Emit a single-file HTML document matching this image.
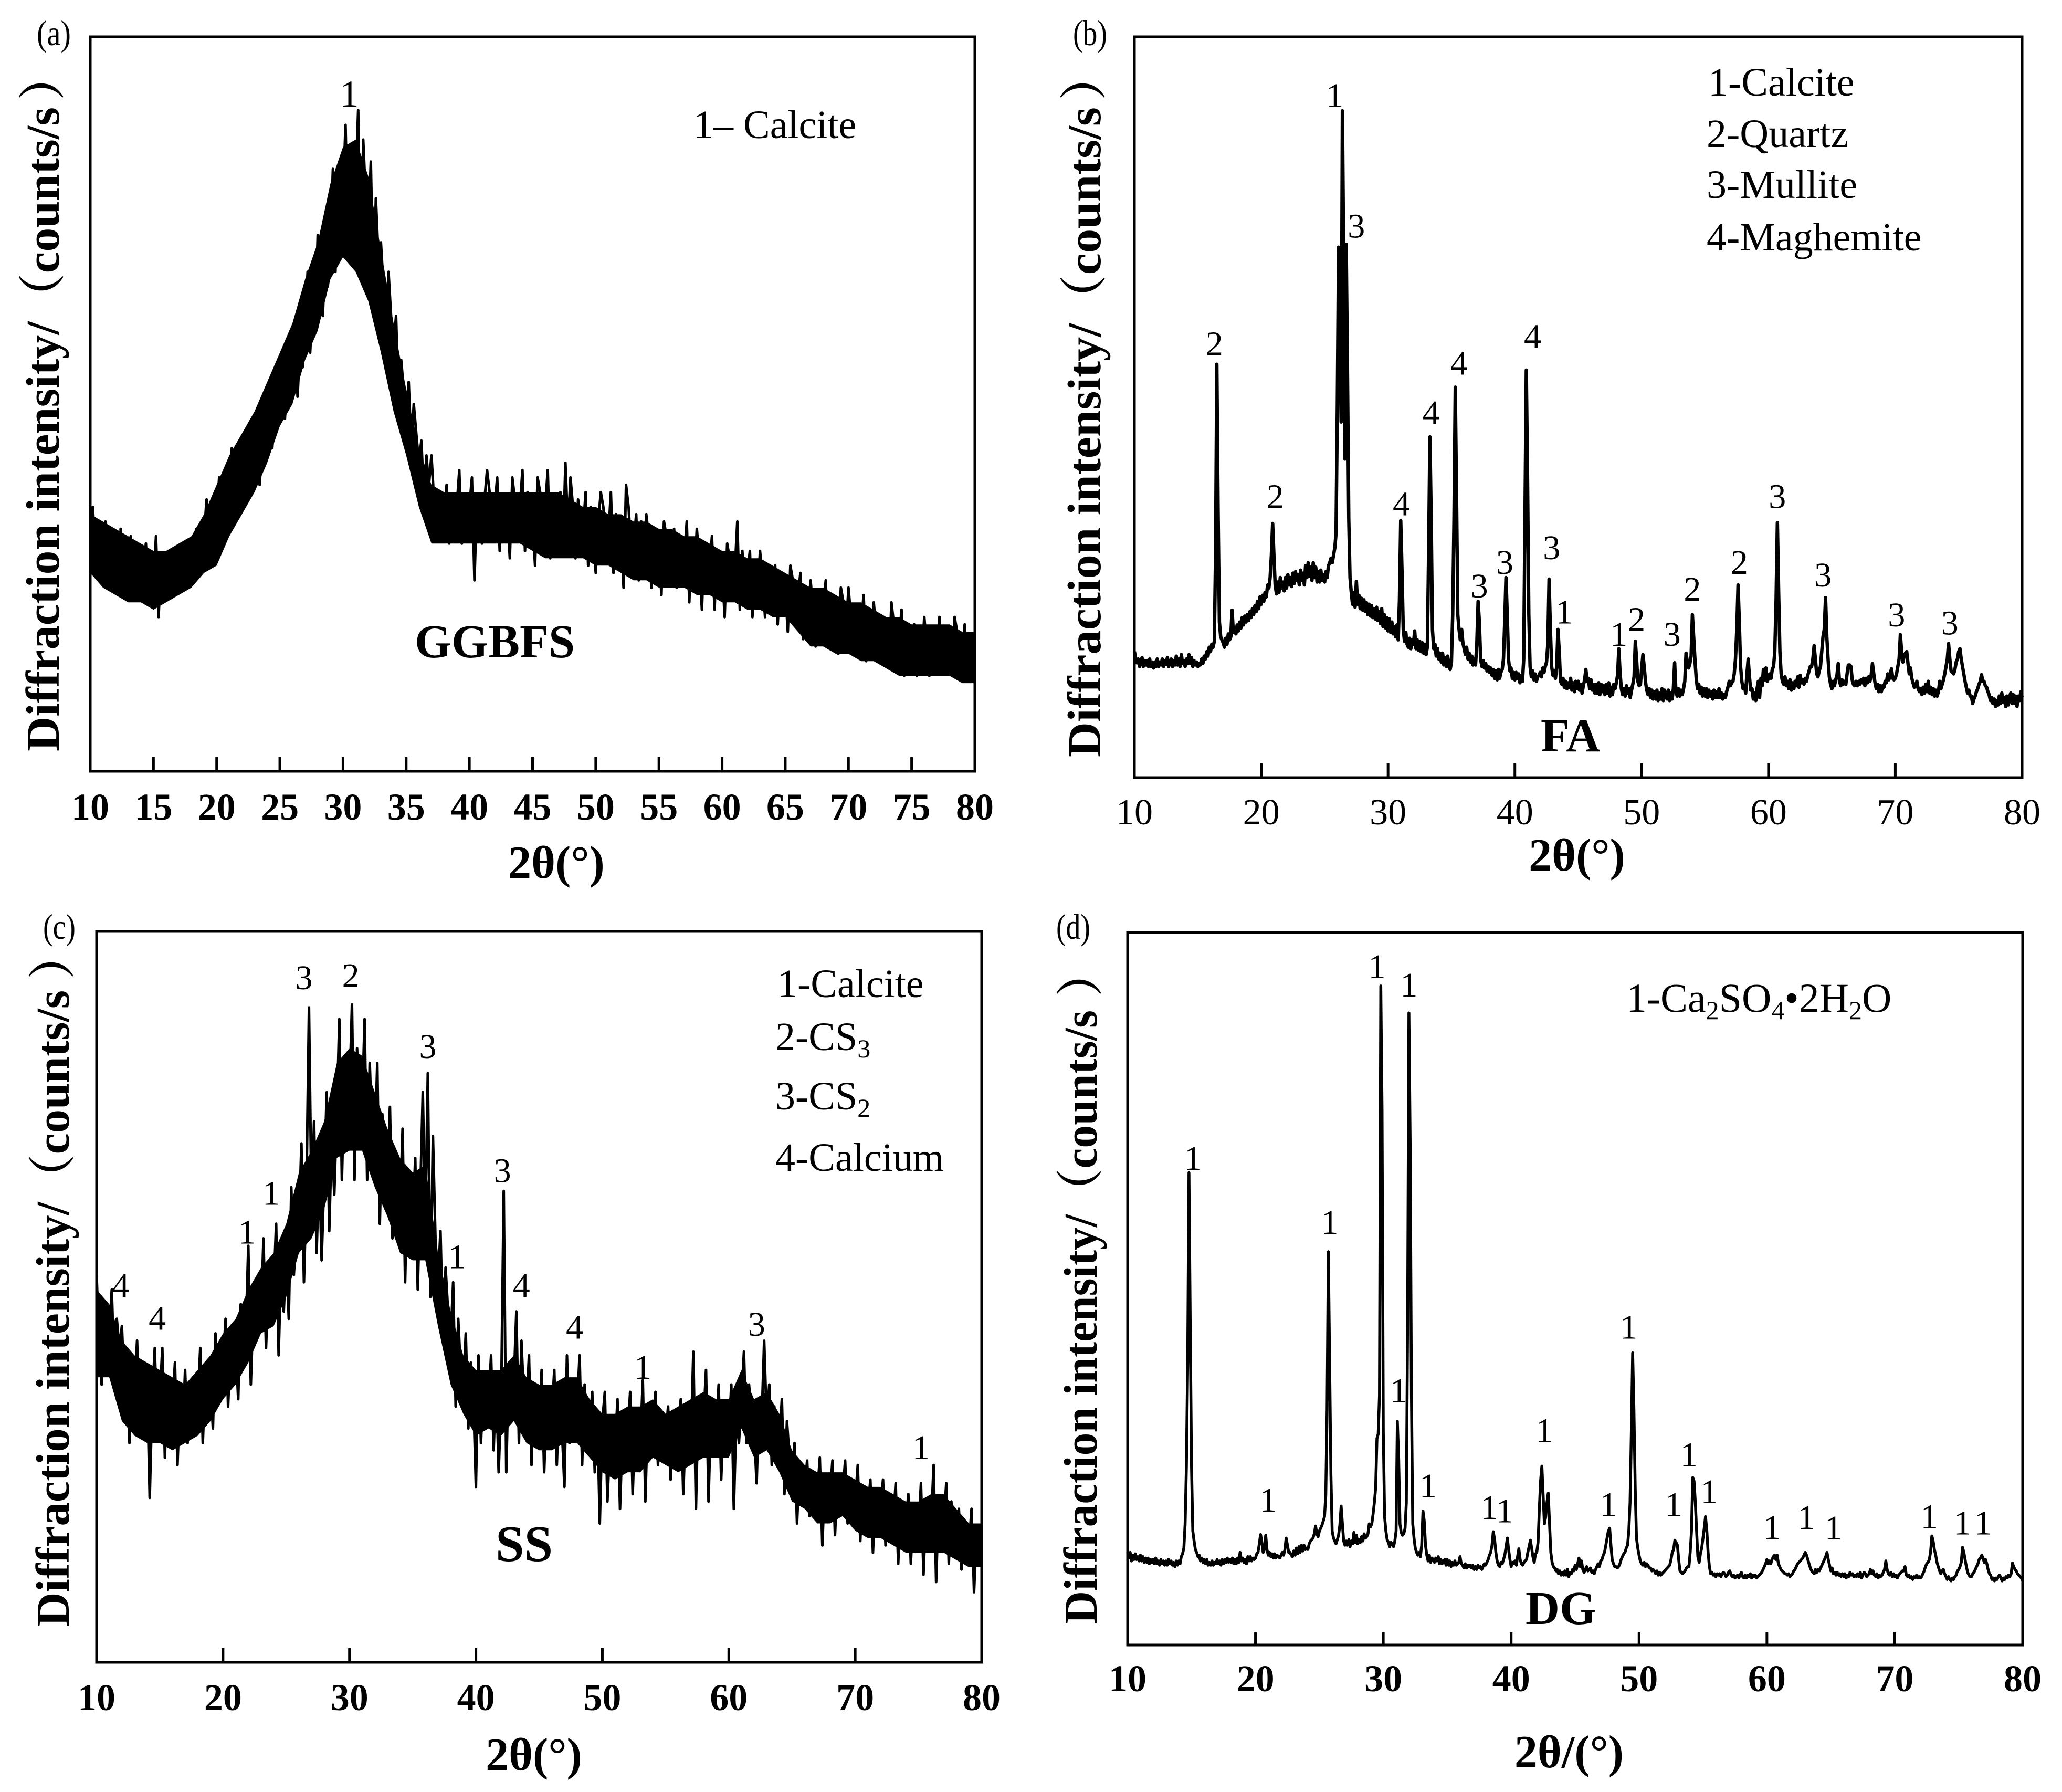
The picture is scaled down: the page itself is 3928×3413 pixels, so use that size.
<!DOCTYPE html>
<html lang="en">
<head>
<meta charset="utf-8">
<title>XRD patterns of GGBFS, FA, SS and DG</title>
<style>
html,body{margin:0;padding:0;background:#fff;}
svg{display:block;}
text{font-family:"Liberation Serif","Noto Serif CJK SC",serif;fill:#000;}
.ytitle{font-size:90px;font-weight:700;}
.xtitle{font-size:88px;font-weight:700;text-anchor:middle;}
.panel-tag{font-size:68px;}
.legend{font-size:76px;}
.big{font-size:90px;font-weight:700;}
</style>
</head>
<body>
<svg id="figure" xmlns="http://www.w3.org/2000/svg" width="3928" height="3413" viewBox="0 0 3928 3413">
<rect x="0" y="0" width="3928" height="3413" fill="#fff"/>

<g id="panel-a">
<text class="panel-tag" x="70" y="86" textLength="65" lengthAdjust="spacingAndGlyphs">(a)</text>
<text class="ytitle" transform="translate(112,1431) rotate(-90)" textLength="1227" lengthAdjust="spacingAndGlyphs">Diffraction intensity/（counts/s</text>
<text class="ytitle" transform="translate(112,191) rotate(-90)">）</text>
<text class="xtitle" x="1060" y="1672">2θ(°)</text>
<text class="legend" x="1321" y="263">1– Calcite</text>
<text class="big" x="790" y="1252">GGBFS</text>
</g>

<g id="panel-b">
<text class="panel-tag" x="2044" y="86" textLength="65" lengthAdjust="spacingAndGlyphs">(b)</text>
<text class="ytitle" transform="translate(2096,1442) rotate(-90)" textLength="1238" lengthAdjust="spacingAndGlyphs">Diffraction intensity/（counts/s</text>
<text class="ytitle" transform="translate(2096,191) rotate(-90)">）</text>
<text class="xtitle" x="3004" y="1658">2θ(°)</text>
<text class="legend" x="3254" y="182">1-Calcite</text>
<text class="legend" x="3251" y="280">2-Quartz</text>
<text class="legend" x="3251" y="377">3-Mullite</text>
<text class="legend" x="3251" y="477">4-Maghemite</text>
<text class="big" x="2935" y="1431">FA</text>
</g>

<g id="panel-c">
<text class="panel-tag" x="82" y="1788" textLength="62" lengthAdjust="spacingAndGlyphs">(c)</text>
<text class="ytitle" transform="translate(131,3098) rotate(-90)" textLength="1212" lengthAdjust="spacingAndGlyphs">Diffraction intensity/（counts/s</text>
<text class="ytitle" transform="translate(131,1865) rotate(-90)">）</text>
<text class="xtitle" x="1017" y="3371">2θ(°)</text>
<text class="legend" x="1481" y="1899">1-Calcite</text>
<text class="legend" x="1477" y="2000">2-CS<tspan dy="14" font-size="50">3</tspan></text>
<text class="legend" x="1477" y="2113">3-CS<tspan dy="14" font-size="50">2</tspan></text>
<text class="legend" x="1477" y="2230">4-Calcium</text>
<text class="big" x="944" y="2973" style="font-size:98px">SS</text>
</g>

<g id="panel-d">
<text class="panel-tag" x="2012" y="1788" textLength="65" lengthAdjust="spacingAndGlyphs">(d)</text>
<text class="ytitle" transform="translate(2089,3093) rotate(-90)" textLength="1169" lengthAdjust="spacingAndGlyphs">Diffraction intensity/（counts/s</text>
<text class="ytitle" transform="translate(2089,1898) rotate(-90)">）</text>
<text class="xtitle" x="2989" y="3366">2θ/(°)</text>
<text class="legend" style="font-size:78px" x="3098" y="1927">1-Ca<tspan dy="14" font-size="50">2</tspan><tspan dy="-14">SO</tspan><tspan dy="14" font-size="50">4</tspan><tspan dy="-14">•2H</tspan><tspan dy="14" font-size="50">2</tspan><tspan dy="-14">O</tspan></text>
<text class="big" x="2906" y="3093">DG</text>
</g>
</svg>

<script>
// Shared axis categories
const thetaMin = 10;
const thetaMax = 80;
const intensityMin = 0;
const intensityMax = 100;
const ticksFive = [10,15,20,25,30,35,40,45,50,55,60,65,70,75,80];
const ticksTen = [10,20,30,40,50,60,70,80];

// Panel (a) GGBFS: one row per degree, sampled every 0.2 degrees from 10
const stepA = 0.2;
const intensityA = [
33,36,30,32,28,
31,34,26,32,29,
30,24,33,28,31,
27,32,26,29,24,
29,26,31,23,28,
26,32,21,28,25,
28,24,30,27,25,
27,31,25,29,27,
29,26,33,28,30,
32,37,28,34,31,
34,40,32,36,35,
37,44,34,40,38,
42,37,45,40,39,
43,48,39,44,42,
51,46,44,48,47,
50,57,48,54,52,
54,61,51,58,55,
60,68,57,64,62,
73,65,62,70,66,
72,82,68,78,74,
78,88,71,83,76,
80,90,68,86,78,
74,83,65,78,70,
72,66,59,68,62,
58,62,50,56,52,
49,53,44,50,46,
42,45,37,43,39,
43,37,32,38,34,
35,39,31,36,33,
36,41,31,37,34,
36,40,26,37,33,
31,37,41,38,34,
36,40,30,37,35,
35,29,40,37,33,
36,41,30,38,34,
34,28,40,38,32,
36,41,29,37,33,
34,38,30,42,33,
40,36,29,37,34,
33,38,28,36,31,
27,34,38,36,32,
32,38,27,35,30,
33,25,39,36,30,
31,35,26,34,29,
35,32,25,33,29,
30,24,34,32,28,
30,33,25,32,27,
29,34,23,31,27,
33,29,22,31,26,
28,32,22,30,26,
28,21,31,29,25,
27,34,22,30,25,
27,30,21,28,24,
30,26,21,28,24,
25,28,20,27,23,
25,19,28,26,22,
24,27,18,25,21,
26,22,17,24,21,
22,26,17,24,20,
21,16,25,23,19,
25,21,16,22,19,
20,24,15,22,18,
23,19,15,21,18,
19,14,23,20,17,
18,22,13,20,16,
17,20,13,19,15,
21,17,13,19,16,
17,21,14,19,15,
16,13,21,19,15,
16,20,13,18,15,
16];
// Solid core of the noise band, one value per degree from 10
const coreUpperA = [
35,34,33,32,31,30,30,31,32,35,
39,43,46,49,53,57,61,67,72,80,
85,86,81,71,61,52,44,39,38,38,
38,38,38,38,38,38,38,38,37,36,
36,35,35,34,34,33,33,32,32,31,
30,30,29,29,28,27,26,25,25,24,
23,23,22,21,21,20,20,20,20,19,
19];
const coreLowerA = [
27,25,24,23,23,22,23,24,25,27,
28,32,35,38,42,47,50,56,60,67,
70,68,64,57,49,43,36,31,31,31,
31,31,31,31,31,30,29,29,29,29,
28,28,27,26,26,25,25,25,24,24,
23,23,22,22,21,21,19,17,17,16,
16,15,15,14,13,13,13,13,13,12,
12];
const peakThetaA = [30.5];
const peakValueA = [90.5];
const peakTextA = ["1"];

// Panel (b) FA: one row per degree, sampled every 0.1 degrees from 10
const stepB = 0.1;
const intensityB = [
17,16,15.5,16,15,15.6,16.2,15,15.8,15.2,
15.8,15,16,15,15.6,14.8,15.6,15,16,15,
15.6,15.2,16,15,15.8,15.3,16.2,15,15.6,16,
15,15.8,15.2,16.4,15.2,16,15,16.6,15.4,15.8,
15,16,15.4,16.6,15.4,16.2,15,15.8,15.2,15.6,
15,15.4,15.2,16,15.4,16.4,16,17,16.4,17.6,
17,18,17.6,18.4,30,55.8,36,21,19,18.6,
18.2,17.6,18.8,18,19.4,18.6,19,22.6,19.6,20,
19.4,20.6,19.8,21,20.2,21.6,20.6,21.8,21,22,
21.2,22.4,21.6,22.8,22,23.2,22.4,23.8,22.8,24.4,
23.4,24.6,23.8,25,24.4,26,25.6,27,30,34.3,
30,26,24.8,26.4,25,27,25.6,26.4,25.2,27,
25.6,27.4,26,27,25.8,27.6,26.2,27.8,26.6,27.4,
26,28,26.6,27.6,26,28.6,27,29,27.2,28.4,
26.6,29,27,28.4,26.4,27.8,26.4,28,26.6,27.4,
26.4,27.8,27,28.6,29,29.6,29,30,31,33,
50,71.6,60,48,90,70,43,72,55,35,
27,25,23.4,25,23,26.5,23.4,24.6,22.8,24.2,
22.6,24,22.4,23.6,22,23.4,21.8,23.2,21.6,22.8,
21.4,23,21.2,22.4,20.8,22.8,20.4,22,20.2,21.6,
19.8,21.4,19.6,21,19.4,20.4,19,20.6,18.6,24,
34.7,28,20,18.4,19.6,18,17.6,18.8,17.4,18.6,
18,19.8,17.4,18.6,17.2,18.4,17,18.2,16.8,18,
16.6,17.6,30,46,35,20,17.4,18,16.4,17.4,
16,16.8,15.6,16.8,15.2,16.2,15,16.4,15,14.6,
15.6,22,35,52.7,38,22,20,18.6,20,18.2,
17.4,16.6,17.6,16,16.8,15.6,16.4,15.2,16,15.2,
18,23.8,21,16,15,15.8,14.8,15.4,14.4,15,
14.2,14.8,13.8,14.6,13.4,14.4,13.2,14.6,13.4,14.2,
14.6,16,21,27,22,16,14.4,14.8,13.4,14.2,
13.2,14.2,13.4,14,12.8,13.8,13,16,35,55,
40,22,15,13.6,14.4,13.2,14,13,13.6,13.8,
14.2,13.6,14.8,14.2,15,15.6,18,26.8,20,15,
13.8,14.4,13.4,15,20,17,13,12.6,13.4,12.2,
13,12,12.8,12.2,13.4,11.8,12.8,11.6,13,12,
13,11.8,12.6,11.4,12.4,13.2,14.6,13,13.4,12,
13.2,11.8,12.6,11.4,12.6,11.4,12.8,11.2,12.6,11.6,
12.4,11.2,12.6,11.4,12.8,11,12.2,11.2,12.6,12,
12.8,13.8,17.4,14,12,11.2,12,11,12.4,11.4,
12,10.8,11.8,12.6,13.6,18.4,16,13,12.4,12.6,
14.8,16.6,15,13,11.8,11.2,12,10.8,11.8,10.6,
11.6,10.6,11.8,10.4,11.4,10.6,12,10.4,11.8,11,
10.6,11.8,10.4,11.4,10.6,12,15.5,11.6,11,12,
11,11.8,11.2,12,13,16.8,15.6,14.8,15.4,16.4,
22,19,16,13.4,12,12.6,11.4,12.2,11,12,
11,12,10.8,11.8,11,11.6,10.6,11.8,10.8,11.6,
10.8,12,10.8,11.4,10.6,11.2,10.8,11.6,12.2,13,
12.4,12.8,13,14,16,20,26,21,15,13,
12,12.4,11.4,14,16,13.6,11.8,12,10.6,11.4,
10.4,12,13,10.8,13.4,12.4,14.6,13.2,14.8,13,
13.4,14,13.4,14.6,15,17,24,34.4,25,17,
14,13,12.6,13.6,12.4,13,12,13.2,11.8,12.8,
12,13,12.4,13.6,12.2,13.8,12.8,13.2,12.6,13.4,
13,13.8,14.4,15,15,16,17.8,16,14,13.6,
14.4,15,17,19,20,24.3,19,16,13.6,12.6,
12,13,12.4,13.2,13.8,15.4,13,12.4,13.2,12.6,
13,12.6,14,15.2,15.2,15,13.2,12.6,12.4,13,
12.4,13,12.6,13.2,12.8,13.4,12.4,13.4,12.8,13.6,
13,13.8,15.4,14,12.8,12,12.6,11.6,12.4,11.6,
12.4,12.2,13,12.8,14,13.2,14,14.7,13.4,13.2,
13.4,14,15,16,19.3,17,15.6,16.4,16.8,17,
15.4,14,14.8,13.4,12.8,12.2,12.4,13,12,11.6,
12,11.2,12.2,11.4,12.6,11.6,13,11.4,12.2,11.2,
12,11,11.8,11,11.6,13,12,12.6,13.2,14,
15,16,18.1,16,14.4,14.2,14,14.6,15.6,16,
17,17.4,16,15,14,13,12.2,11.4,11.8,11,
11,10,10.6,11,11.6,12,12.6,13,13.9,13,
13,12.4,12.2,11.6,11.2,10.4,10.8,10,10.6,9.6,
10.4,9.8,11,10,11.4,10.2,10.8,9.6,11,9.8,
10.8,11.4,10,11.2,10,11,9.6,11,10.4,11.6,
10.8];
const peakThetaB = [25.8,27.5,16.3,21.1,31.05,33.4,35.6,41.4,37.2,39.2,42.9,43.9,48.2,49.6,52.4,54,57.7,60.7,64.3,70.1,74.3];
const peakValueB = [90.5,72.9,57,36.4,35.4,47.7,54.4,58,24.3,27.5,29.5,20.8,17.8,19.8,17.8,23.9,27.5,36.4,25.8,20.4,19.3];
const peakTextB = ["1","3","2","2","4","4","4","4","3","3","3","1","1","2","3","2","2","3","3","3","3"];

// Panel (c) SS: one row per degree, sampled every 0.2 degrees from 10
const stepC = 0.2;
const intensityC = [
53,44,38,48,42,
45,51,40,47,43,
46,38,42,30,40,
37,44,33,40,31,
38,22.5,36,43,32,
36,43,28,38,33,
35,41,27,37,31,
40,30,37,34,32,
36,43,30,39,35,
38,32,45,37,41,
41,47,35,43,39,
43,36,49,41,45,
57,38,49,44,52,
47,58,43,52,49,
51,60,42,55,48,
56,47,65,53,59,
60,71,52,65,89.6,
62,74,56,68,55,
66,78,59,72,64,
75,88,66,80,72,
78,90,66,84,74,
76,88,66,82,72,
70,82,60,75,68,
66,76,58,70,63,
62,73,52,67,58,
60,69,51,64,78,
60,80.6,50,72,58,
52,59,44,54,48,
44,52,35,47,40,
38,45,32,41,36,
24,42,30,38,35,
36,42,29,39,26,
36,64.5,26,41,34,
38,48,30,44,36,
35,42,27,38,33,
33,40,26,36,31,
34,40,27,37,32,
24,42,30,38,33,
35,42,27,38,32,
32,37,26,34,19,
33,37,22,30,28,
29,36,21,32,27,
31,37,23,33,28,
30,38.6,22,34,29,
32,37,27,34,30,
31,35,25,33,29,
31,36,23,33,28,
30,42.5,21,36,31,
33,40,22,35,30,
32,38,25,34,30,
31,38,21,34,30,
36,42.5,30,38,34,
32,24.5,36,33,44,
33,38,27,35,31,
30,36,23,33,28,
25,30,19,27,24,
24,27.6,20,25,23,
23,28,16,25,21,
23,27.6,17.4,25,22,
23,27.6,19,25,22,
22,27,16.6,24,20,
21,25,15,23,19,
21,25,16,23,20,
19,24.5,13.5,22,18,
19,23,13.5,21,17,
18,24.5,12,21,17,
19,27,11,22,18,
19,24.5,13.5,22,17,
17,21,12.7,19,16,
16,21,9.6,18,15,
16];
// Solid core of the noise band, one value per degree from 10
const coreUpperC = [
51,49,44,42,41,40,39,38,40,42,
45,47,51,54,56,60,67,70,74,82,
84,83,78,73,69,67,68,56,48,42,
40,40,40,42,39,38,38,39,39,36,
34,34,35,35,36,34,35,36,37,36,
36,40,36,37,34,29,27,26,26,26,
25,24,24,23,22,22,23,23,21,19,
19];
const coreLowerC = [
39,39,33,31,30,30,29,30,31,33,
36,38,41,45,46,50,56,58,62,69,
70,70,65,61,56,55,55,46,38,34,
31,32,31,33,30,29,29,30,30,28,
26,25,26,26,28,27,26,27,28,28,
28,32,28,29,26,22,21,19,19,20,
18,17,17,16,15,15,15,15,14,13,
13];
const peakThetaC = [26.4,30.1,36.2,42.1,23.8,21.9,38.5,11.9,14.8,43.6,47.8,53.2,62.2,75.2];
const peakValueC = [92.1,92.4,82.7,65.7,62.6,57.3,53.9,50,45.5,50,44.3,38.8,44.7,27.8];
const peakTextC = ["3","2","3","3","1","1","1","4","4","4","4","1","3","1"];

// Panel (d) DG: one row per degree, sampled every 0.1 degrees from 10
const stepD = 0.1;
const intensityD = [
13,12.2,13,11.8,12.6,12,12.8,12,12.4,11.8,
12.6,11.8,12.4,11.6,12.2,11.6,12.2,11.4,12,11.6,
12,11.4,12.2,11.4,11.8,11.2,12,11.4,11.8,11.2,
11.8,11.2,12,11.4,11.8,11.2,11.6,11,11.8,11.2,
11.8,11.4,12.4,12.8,13.6,17,25,40,66.3,45,
25,16,14.6,13.4,13,12.4,12.6,11.8,12.2,11.6,
12,11.4,12,11.2,11.6,11.2,11.8,11.2,11.6,11.4,
12,11.4,11.8,11.2,12,11.4,12,11.6,12.2,11.6,
12,11.6,12.2,11.4,12,11.4,12.2,11.6,13,11.8,
12.2,11.6,12,11.4,12.4,11.8,12.4,11.8,12.2,12,
12.2,12.8,13,14.2,15.5,14.4,13,13.4,15.4,13.4,
12.6,13,12.4,12.8,12.2,12.8,12.2,12.6,12.4,12.2,
12.6,13,12.6,13.4,15,14,13,13,12.6,12.4,
13.2,12.6,13.6,12.8,13.8,13,14,13.2,14,13.4,
13.6,13.4,14.2,14.6,14.8,15,15.6,16.7,15.6,15.2,
16,16.4,16.8,17.4,18,21,33,55.2,40,24,
16,15,14.6,14.2,14.8,15.4,16.8,19.5,17,14.6,
14,14.6,14,14.8,13.8,14.6,14.2,15.8,14.4,15.4,
14.2,14.8,14.4,15.2,14.6,15.6,15,15.2,15.6,17,
16.6,17,18.4,20,22,29,29.6,35,92.5,75,
30,18,16,14.8,14.4,13.8,14.4,14.2,13.8,14.6,
16,31.4,26,17,15.8,15.4,15.6,16.4,20,45,
88.7,70,35,17,15,13.6,13,12.6,13,12.4,
14,18.8,17.4,14,12.6,11.8,12.6,11.6,12.2,12,
11.6,12.2,11.8,12.4,11.4,12,11.4,11.8,12,11.2,
12,11.2,11.8,11,11.6,11.2,11.8,11.2,11.4,11.6,
12.4,11.4,11.2,10.8,11.4,10.8,11.2,11,11.2,10.8,
11.2,10.6,11,10.6,11.2,10.8,11,10.6,11,11.4,
11.2,11.6,12,12.6,13,14,15.9,14.8,13,11.8,
11.2,11,11.6,11.4,12,12.6,13.8,15,13.4,12,
11,11.6,11.4,11.8,11.2,12.4,13.5,12,11.4,11.2,
11.6,11.8,12,13,13.8,14.7,13.6,12.4,11.6,12.8,
13,14.4,19,23,25.1,21,17,18,20,21.3,
17,13,11.6,11,10.8,10.4,10.6,10,10.4,9.8,
10.2,9.8,10.4,9.8,10.6,9.6,10.2,10,10.6,10.4,
11.2,10.6,11.4,12.2,11,11.8,10.6,10.2,10.6,11,
10.4,10.6,10.8,10.2,10.4,10,10.6,11,11.4,11,
11.8,12,12.6,13,14,15,16,16.4,14,12,
11.4,11,11,10.8,11,11.4,12,12.4,12.8,13,
13.6,14,16,20,30,41,33,22,15,13.6,
12.6,11.8,11.4,11.2,11.6,11,11.4,11.2,10.8,10.8,
10.4,10.6,10.4,10,10.4,9.8,10.2,9.8,10,10.2,
10.4,10.6,10.8,11,11.2,12,13,13.4,14.7,14.4,
14,12,10.4,10.2,10,10.2,10.4,10.8,11,11,
13,16,23.5,23,20,16,12.4,11.6,12.8,13.6,
15,16.4,18,16,13,11,10,10.2,9.8,10,
9.6,10,9.8,10,9.6,10,10.2,10,9.6,9.8,
10.2,10.4,9.8,9.6,9.8,9.4,9.6,9.8,9.4,9.8,
10.2,9.6,9.4,9.8,9.4,9.8,9.6,10,9.4,9.8,
9.6,9.8,9.4,9.6,9.8,10,10.2,10.6,11,11.4,
12,11.4,11.8,11.4,12,12.4,12.6,12,12.6,11.4,
11,10.6,10.4,10.2,10,10,9.8,10,9.6,9.8,
10,10.4,10.6,11,11.4,11.6,11.8,12,12.2,12.6,
13,12.6,12,11.4,10.8,10.4,10.2,10,10.6,10.2,
10.6,10.4,10.8,11.2,11.6,12,12.4,13,12,11.2,
10.4,10.8,10,10.2,9.8,10.2,9.8,10,9.6,10,
9.6,10,9.4,9.8,9.6,10.2,9.8,10,9.6,9.8,
9.6,10,9.6,10.2,9.4,9.8,10.2,10,9.6,9.8,
10,10.6,10,10.4,9.8,9.6,10,9.4,9.8,9.6,
9.8,10.2,10.6,11.8,10.6,10,9.8,10.2,9.6,10,
9.6,9.8,9.4,9.8,10,10.2,10.4,10.4,11,9.8,
9.6,9.8,9.4,9.6,9.2,9.6,9.4,9.8,9.4,9.6,
9.4,9.6,10,10.4,11,11.4,11.6,12,13,15.3,
14.6,13.4,12.6,11.6,11,10.4,10,10.4,10.6,10,
9.6,9.2,9.6,9.2,9,9.4,9.2,9.6,9.8,10.4,
10.6,11,11.6,13.7,13,12,11,10.2,9.8,9.6,
9.6,10,10.2,10.6,11,11.4,12,12.2,12.6,12.2,
11.6,12,11.4,10.6,10,9.8,9.2,9.4,9,9.4,
9.2,9.6,9.8,9.4,9,9.4,9.2,9.6,9.4,9.8,
9.6,10,11.5,11,10.6,10.4,10,9.8,9.6,9.4,
9];
const peakThetaD = [29.5,32,15.1,25.8,49.2,31.2,42.6,53.9,55.5,33.5,21,38.3,39.5,47.6,52.7,60.4,63.1,65.2,72.7,75.3,76.9];
const peakValueD = [93.6,91,66.7,57.7,43,34.1,28.5,25.1,19.9,20.7,18.7,17.7,17.2,18.1,18.1,14.9,16.3,14.8,16.4,15.5,15.5];
const peakTextD = ["1","1","1","1","1","1","1","1","1","1","1","1","1","1","1","1","1","1","1","1","1"];

const SVG_NS = 'http://www.w3.org/2000/svg';

function drawPanel(groupId, box, step, values, coreUpper, coreLower, ticks, tickBold, tickBaseline, tickLen, lineWidth, peakThetas, peakValues, peakTexts, peakSize) {
  const group = document.getElementById(groupId);
  const xScale = function (t) { return box.left + (t - thetaMin) / (thetaMax - thetaMin) * (box.right - box.left); };
  const yScale = function (v) { return box.bottom - (v - intensityMin) / (intensityMax - intensityMin) * (box.bottom - box.top); };

  // solid core of the noise band
  if (coreUpper && coreLower) {
    let coreD = '';
    const coreCount = Math.min(coreUpper.length, coreLower.length);
    for (let i = 0; i < coreCount; i++) {
      coreD += (i ? 'L' : 'M') + xScale(thetaMin + i).toFixed(1) + ' ' + yScale(coreUpper[i]).toFixed(1);
    }
    for (let i = coreCount - 1; i >= 0; i--) {
      coreD += 'L' + xScale(thetaMin + i).toFixed(1) + ' ' + yScale(coreLower[i]).toFixed(1);
    }
    const core = document.createElementNS(SVG_NS, 'path');
    core.setAttribute('d', coreD + 'Z');
    core.setAttribute('fill', '#000');
    
    
    group.appendChild(core);
  }

  // series
  let d = '';
  for (let i = 0; i < values.length; i++) {
    d += (i ? 'L' : 'M') + xScale(thetaMin + i * step).toFixed(1) + ' ' + yScale(values[i]).toFixed(1);
  }
  const line = document.createElementNS(SVG_NS, 'path');
  line.setAttribute('d', d);
  line.setAttribute('fill', 'none');
  line.setAttribute('stroke', '#000');
  line.setAttribute('stroke-width', lineWidth);
  line.setAttribute('stroke-linejoin', 'round');
  
  
  group.appendChild(line);

  // axes frame
  const frame = document.createElementNS(SVG_NS, 'rect');
  frame.setAttribute('x', box.left);
  frame.setAttribute('y', box.top);
  frame.setAttribute('width', box.right - box.left);
  frame.setAttribute('height', box.bottom - box.top);
  frame.setAttribute('fill', 'none');
  frame.setAttribute('stroke', '#000');
  frame.setAttribute('stroke-width', 5);
  
  
  group.appendChild(frame);

  // ticks
  for (let i = 0; i < ticks.length; i++) {
    const x = xScale(ticks[i]);
    const tick = document.createElementNS(SVG_NS, 'line');
    tick.setAttribute('x1', x);
    tick.setAttribute('x2', x);
    tick.setAttribute('y1', box.bottom);
    tick.setAttribute('y2', box.bottom - tickLen);
    tick.setAttribute('stroke', '#000');
    tick.setAttribute('stroke-width', 5);
    
    
    group.appendChild(tick);

    const label = document.createElementNS(SVG_NS, 'text');
    label.setAttribute('x', x);
    label.setAttribute('y', tickBaseline);
    label.setAttribute('text-anchor', 'middle');
    label.setAttribute('font-size', tickBold ? 72 : 70);
    label.setAttribute('font-weight', tickBold ? 700 : 400);
    
    
    label.textContent = String(ticks[i]);
    group.appendChild(label);
  }

  // phase markers
  for (let i = 0; i < peakTexts.length; i++) {
    const mark = document.createElementNS(SVG_NS, 'text');
    mark.setAttribute('x', xScale(peakThetas[i]));
    mark.setAttribute('y', yScale(peakValues[i]));
    mark.setAttribute('text-anchor', 'middle');
    mark.setAttribute('font-size', peakSize);
    
    
    mark.textContent = peakTexts[i];
    group.appendChild(mark);
  }
}

drawPanel('panel-a', {left:172,right:1857,top:70,bottom:1469}, stepA, intensityA, coreUpperA, coreLowerA, ticksFive, true, 1561, 27, 5, peakThetaA, peakValueA, peakTextA, 72);
drawPanel('panel-b', {left:2161,right:3852,top:70,bottom:1481}, stepB, intensityB, null, null, ticksTen, false, 1570, 27, 6.5, peakThetaB, peakValueB, peakTextB, 66);
drawPanel('panel-c', {left:184,right:1870,top:1774,bottom:3166}, stepC, intensityC, coreUpperC, coreLowerC, ticksTen, true, 3257, 27, 5, peakThetaC, peakValueC, peakTextC, 66);
drawPanel('panel-d', {left:2148,right:3853,top:1776,bottom:3133}, stepD, intensityD, null, null, ticksTen, true, 3221, 24, 5.5, peakThetaD, peakValueD, peakTextD, 66);
</script>
</body>
</html>
